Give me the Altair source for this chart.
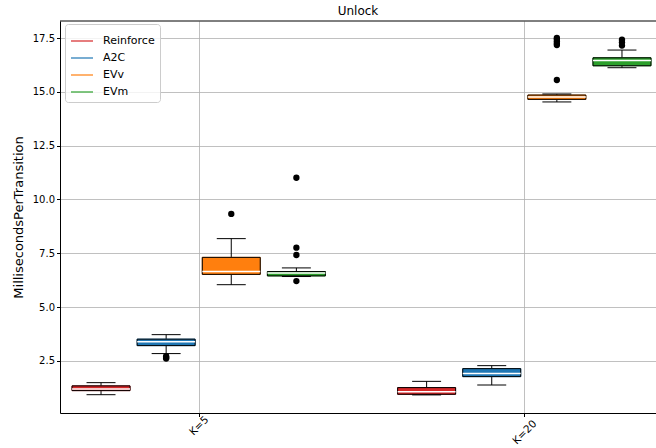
import altair as alt
import pandas as pd

groups = ["K=5", "K=20"]
methods = ["Reinforce", "A2C", "EVv", "EVm"]
colors = ["#d62728", "#1f77b4", "#ff7f0e", "#2ca02c"]

# Box statistics, one entry per (group, method), group-major order
whisker_low = [0.93, 2.84, 6.04, 6.42, 0.92, 1.38, 14.53, 16.12]
quartile_1 = [1.12, 3.21, 6.52, 6.45, 0.95, 1.77, 14.65, 16.21]
medians = [1.20, 3.39, 6.65, 6.58, 1.07, 1.91, 14.76, 16.45]
quartile_3 = [1.34, 3.51, 7.31, 6.65, 1.26, 2.14, 14.85, 16.58]
whisker_high = [1.49, 3.72, 8.18, 6.82, 1.55, 2.28, 14.90, 16.94]
outliers = [
    [],
    [2.72, 2.66, 2.61],
    [9.33],
    [11.01, 7.76, 7.42, 6.21],
    [],
    [],
    [15.55, 17.17, 17.25, 17.35, 17.45, 17.50],
    [17.15, 17.30, 17.42],
]

y_ticks = [2.5, 5.0, 7.5, 10.0, 12.5, 15.0, 17.5]

rows, out_rows = [], []
k = 0
for gi, g in enumerate(groups):
    for mi, m in enumerate(methods):
        rows.append(dict(group=g, method=m, gi=gi, mi=mi,
                         lo=whisker_low[k], q1=quartile_1[k], med=medians[k],
                         q3=quartile_3[k], hi=whisker_high[k]))
        for v in outliers[k]:
            out_rows.append(dict(group=g, method=m, gi=gi, mi=mi, value=v))
        k += 1
boxes = pd.DataFrame(rows)
fliers = pd.DataFrame(out_rows)

W, H = 596, 392
FONT = "DejaVu Sans"

xscale = alt.Scale(domain=[-0.426, 1.4045], nice=False, zero=False)
yscale = alt.Scale(domain=[0.08, 18.29], nice=False, zero=False)

label_js = "[" + ",".join(f"'{g}'" for g in groups) + "]"
xaxis = alt.Axis(
    values=[0, 1], labelExpr=f"{label_js}[datum.value]", title=None,
    labelAngle=-45, labelAlign="center", labelBaseline="middle",
    labelPadding={"condition": {"test": "datum.value == 1", "value": 15.5}, "value": 9},
    tickSize=3.5, grid=True, labelFontSize=10.5,
)
yaxis = alt.Axis(
    values=y_ticks, format=".1f", title="MillisecondsPerTransition",
    tickSize=3.5, grid=True, titleFontSize=13, titleFontWeight="normal",
    titlePadding=7,
)


def X(field):
    return alt.X(field, type="quantitative", scale=xscale, axis=xaxis)


def Y(field):
    return alt.Y(field, type="quantitative", scale=yscale, axis=yaxis)


base = alt.Chart(boxes).transform_calculate(
    pos="datum.gi + (datum.mi - 1.5) * 0.2",
    left="datum.gi + (datum.mi - 1.5) * 0.2 - 0.089",
    right="datum.gi + (datum.mi - 1.5) * 0.2 + 0.089",
    capl="datum.gi + (datum.mi - 1.5) * 0.2 - 0.0445",
    capr="datum.gi + (datum.mi - 1.5) * 0.2 + 0.0445",
)

color_scale = alt.Scale(domain=methods, range=colors)
legend = alt.Legend(
    title=None, orient="none", legendX=5, legendY=3,
    symbolType="stroke", symbolSize=484, symbolStrokeWidth=1.5, symbolOpacity=0.8,
    labelFontSize=11, labelFont=FONT, labelColor="black", labelOffset=9,
    padding=5, rowPadding=-4, strokeColor="#cccccc", fillColor="rgba(255,255,255,0.8)",
    cornerRadius=3,
)

whisk_lo = base.mark_rule(color="black", strokeWidth=1).encode(x=X("pos"), y=Y("lo"), y2="q1:Q")
whisk_hi = base.mark_rule(color="black", strokeWidth=1).encode(x=X("pos"), y=Y("q3"), y2="hi:Q")
cap_lo = base.mark_rule(color="black", strokeWidth=1).encode(x=X("capl"), x2="capr:Q", y=Y("lo"))
cap_hi = base.mark_rule(color="black", strokeWidth=1).encode(x=X("capl"), x2="capr:Q", y=Y("hi"))

box_fill = base.mark_rect(strokeWidth=1).encode(
    x=X("left"), x2="right:Q", y=Y("q1"), y2="q3:Q",
    fill=alt.Fill("method:N", scale=color_scale, legend=legend, sort=methods),
    stroke=alt.Stroke("method:N", scale=color_scale, legend=legend, sort=methods),
)
box_edge = base.mark_rect(fillOpacity=0, stroke="black", strokeWidth=1).encode(
    x=X("left"), x2="right:Q", y=Y("q1"), y2="q3:Q",
)
median = base.mark_rule(color="white", strokeWidth=1.5).encode(
    x=X("left"), x2="right:Q", y=Y("med"),
)
flier = alt.Chart(fliers).transform_calculate(
    pos="datum.gi + (datum.mi - 1.5) * 0.2"
).mark_circle(color="black", size=40, opacity=1).encode(x=X("pos"), y=Y("value"))

top_frame = alt.Chart(pd.DataFrame({"f": [0]})).mark_rule(color="black", strokeWidth=1).encode(
    x=alt.value(0), x2=alt.value(W), y=alt.value(0)
)

chart = alt.layer(
    whisk_lo, whisk_hi, box_fill, box_edge, median, cap_lo, cap_hi, flier, top_frame
).properties(
    width=W, height=H,
    title=alt.Title("Unlock", fontSize=12, font=FONT, fontWeight="normal", offset=3, anchor="middle", color="black"),
    autosize=alt.AutoSizeParams(type="none"),
    padding={"left": 60, "top": 21, "right": 0, "bottom": 35},
).configure_view(stroke=None).configure_axis(
    labelFont=FONT, titleFont=FONT, labelFontSize=10, labelColor="black", titleColor="black",
    domainColor="black", tickColor="black", domainWidth=1, tickWidth=1,
    gridColor="#b0b0b0", gridWidth=0.8,
)

chart.save("out.html", embed_options={"renderer": "svg", "actions": False})
